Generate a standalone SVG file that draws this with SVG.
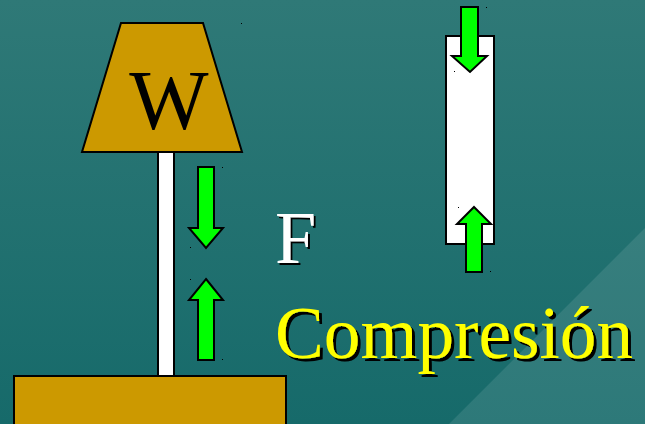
<svg xmlns="http://www.w3.org/2000/svg" width="645" height="424" viewBox="0 0 645 424">
<defs>
<linearGradient id="bg" x1="0" y1="0" x2="0" y2="1">
<stop offset="0" stop-color="#2f7977"/>
<stop offset="1" stop-color="#166a6a"/>
</linearGradient>
<filter id="shadow" x="-10%" y="-10%" width="130%" height="130%">
<feOffset in="SourceAlpha" dx="3" dy="3" result="off"/>
<feFlood flood-color="#000"/>
<feComposite in2="off" operator="in" result="sh"/>
<feMerge><feMergeNode in="sh"/><feMergeNode in="SourceGraphic"/></feMerge>
</filter>
<filter id="shadow2" x="-10%" y="-10%" width="130%" height="130%">
<feOffset in="SourceAlpha" dx="2" dy="2" result="off"/>
<feFlood flood-color="#000"/>
<feComposite in2="off" operator="in" result="sh"/>
<feMerge><feMergeNode in="sh"/><feMergeNode in="SourceGraphic"/></feMerge>
</filter>
</defs>
<style>
.ol{stroke:#000;stroke-width:2;stroke-linejoin:miter}
.gold{fill:#cc9900}
.white{fill:#fff}
.arrow{fill:#00ff00;stroke:#000;stroke-width:2}
.serif{font-family:"Liberation Serif","Times New Roman",serif}
.dot{fill:#000}
</style>
<rect width="645" height="424" fill="url(#bg)"/>
<polygon points="645,228 645,424 449,424" fill="#ffffff" fill-opacity="0.1"/>
<g id="base"><rect class="ol gold" x="14" y="376" width="272" height="60"/></g>
<g id="column"><rect class="ol white" x="158" y="150" width="16" height="226"/></g>
<g id="weight">
<polygon class="ol gold" points="121,23 203,23 242,152 82,152"/>
<text class="serif" x="169" y="129" font-size="84" text-anchor="middle" fill="#000">W</text>
</g>
<g id="bar"><rect class="ol white" x="446" y="36" width="48" height="208"/></g>
<g id="connectors">
<polygon class="arrow" points="198,167 214,167 214,228 223,228 206,248 189,228 198,228"/>
<polygon class="arrow" points="206,279 223,300 214,300 214,360 198,360 198,300 189,300"/>
<polygon class="arrow" points="461,7 478,7 478,56 487,56 470,72 452,56 461,56"/>
<polygon class="arrow" points="474,207 491,224 482,224 482,272 466,272 466,224 457,224"/>
</g>
<g id="label-F">
<text class="serif" x="275" y="263" font-size="74" fill="#fff" filter="url(#shadow2)">F</text>
</g>
<g id="label-compresion">
<text class="serif" x="275" y="358" font-size="74" fill="#ffff00" filter="url(#shadow)" textLength="358" lengthAdjust="spacingAndGlyphs">Compresión</text>
</g>
<g id="marks">
<rect class="dot" x="241" y="23" width="1" height="1"/>
<rect class="dot" x="222" y="167" width="1" height="1"/>
<rect class="dot" x="190" y="247" width="1" height="1"/>
<rect class="dot" x="190" y="279" width="1" height="1"/>
<rect class="dot" x="222" y="359" width="1" height="1"/>
<rect class="dot" x="486" y="7" width="1" height="1"/>
<rect class="dot" x="454" y="71" width="1" height="1"/>
<rect class="dot" x="458" y="207" width="1" height="1"/>
<rect class="dot" x="490" y="271" width="1" height="1"/>
</g>
</svg>
